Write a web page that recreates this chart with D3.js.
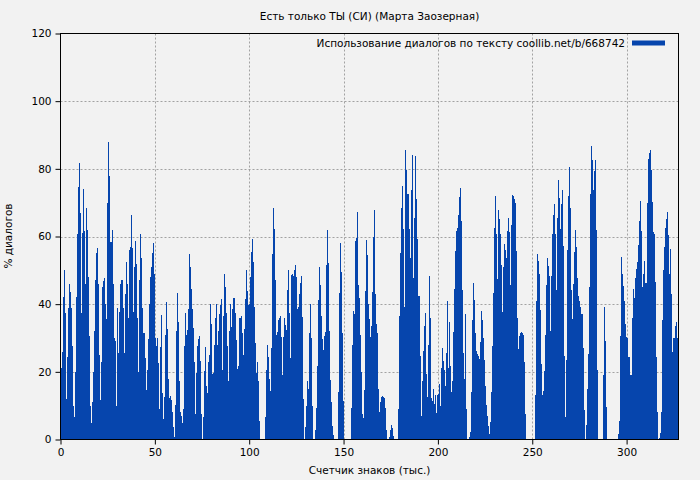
<!DOCTYPE html>
<html><head><meta charset="utf-8">
<script src="https://cdn.jsdelivr.net/npm/d3@7"></script>
<style>body{margin:0;background:#f2f2f2} text{font-family:"DejaVu Sans",sans-serif}</style>
</head><body><svg id="c" width="700" height="480"></svg>
<script>
const title = "Есть только ТЫ (СИ) (Марта Заозерная)";
const legendLabel = "Использование диалогов по тексту coollib.net/b/668742";
const xLabel = "Счетчик знаков (тыс.)";
const yLabel = "% диалогов";
const xTicks = [0, 50, 100, 150, 200, 250, 300];
const yTicks = [0, 20, 40, 60, 80, 100, 120];
const binWidth = 0.533; // thousand characters per bar

const seg1 = [21,26,42,50,37.5,12,24.5,39,46,43.5,39,27.5,10,6.6,20,42,60.6,74.6,81.7,67,37.5,61,74,61.6,46,68.5,62,48,30.7,10,5,11,20,32,47,55,56.5,46,25,11.6,23,45,46.7,47.7,40,35.5,70,87.8,78,58.5,58.5,62,46,30,29,10,39,25.5,37.6,46,47,47,39,25.7,43,52.6,46,36,56,57,66.5,56.5,37.8,51,58.6,52];
const seg2 = [36,20,47,60.6,53.5,39,31.4,31.4,24,14.5,20.4,29.7,40,48,51,55,58.2,48.8,29.9,27.5,30,22.6,9,27.3,36.7,13.7,6,12.7,31,40.5,32.8,18,12.3,13,11.7,8.2,3.6,0.7,10.3,32.2,43.4,34.6,17.2,8,7,5,9,27.7,37.5,30.8,32.4,38.5,54.7,51,44.6,38.5,33,22.8,7.4,19.8,27.5,29.7,30.6,23.3,7.4,0,6.6,20.2,27.3,15.7,13.7,22.8,25,40,34,19.4];
const seg3 = [19.6,28,35.8,40,28,32,37,39.7,41.5,20.6,36.4,48.8,45,37.3,27.5,17.2,32.2,40,33.2,38.7,41.7,37.5,29.3,20.8,21.8,36,36,36.6,31.4,25,32.6,41.6,50,44,39.7,40,48,55.5,59.4,52.6,39.3,28.5,19.8,23,17.2,5.4,0,0,0,0,0,6.6,20.6,28,24.5,17.8,14.3,27,54.7,68.5,62.2,47.2,30.8,31.8,35.2,35.8,36.4,30.4,19.2,30.2,36,33.8,32.4,44.2,50,37.5,24,48.6];
const seg4 = [48.8,48.4,50.1,51.5,48,38.7,39.1,42.9,46.4,48.4,36.2,11.9,0,3.8,10,17.2,15,31.6,40,29.9,9.8,0,0,2.7,9.2,21.8,41.3,51,45.8,36.4,29.7,26.5,30.6,31.8,51.7,62,52.1,32,17.6,11.1,4,1.3,0,0,0,0,14.1,43.4,58.2,49.4,31.6,11.3,0,0,0,0,0,0,0,9.2,28,37.9,37,58.8,59.6,67.1,45.6,41.9,31,20,7.6,6.4,14.5,44,59,54.5,40,35.6];
const seg5 = [30.2,33.6,43.6,59.8,67.7,43,34,31.6,15,8,11.1,12.5,12.9,12.7,12.3,9.2,2.7,0,0,0.7,2.9,4.2,3.3,0.9,0,0,0,0,9,36.6,55,68.3,74.8,62.2,39.3,85.6,79.7,72.6,62.2,53.5,73.6,84,47.6,65.5,83.8,71.2,59.2,42.3,42.3,24.7,6.8,17.2,26.3,33.6,37.5,19.4,12.5,28,48.4,36,12.3,11.5,14.9,10.5,13.3,7.8,13.3,13.5,16.3,9.8,21.2,27.1,23.3,20.6,15.9,25.5,41,21.2];
const seg6 = [34.8,21.8,13.9,17.2,31.8,44.6,55.7,61.6,62.6,66.3,71.6,74.4,64.5,44.2,25.5,18,37,9,0,0,0.7,2.3,14.1,35.4,46.4,41.3,31.6,26.3,25.3,24.7,23.7,28.9,38.1,35.4,30,23.5,15.9,10.3,7,4,1.5,5.2,13.9,27.5,43.4,62.4,72,60.8,47.4,67.7,65.3,60.6,51.5,37.7,51.1,57.8,55.9,53.5,61.6,65.5,61.4,45.8,63.3,72.4,72,71,69.9,55.7,36,26.7,30.6,31.4,31.8,31.4,31,23,7.4,0];
const seg7 = [0,0,0,0,0,0,0,0,13.3,41,54.9,52.9,48.8,38.3,22.2,13.1,14.3,20.2,30.8,45.8,53.5,51.3,48.2,32.2,48.2,60.8,66.5,69.5,60.6,44.2,65.5,76.6,71.4,62.2,69.5,73.6,57.2,24.7,6.6,23.5,56,72,80.5,68.3,44.2,35.6,46,55.5,61.8,57,47.6,42.3,40.9,39.1,37,26.9,8.6,0,4.4,14.9,25.3,45,72.6,86.8,82.5,73.6,79.3,82.7,61.8,20.4,0,0,0,0,0,19.2,39.1,29.1];
const seg8 = [9.6,0,0,0,0,0,0,0,0,0,0,0,1.5,5.6,30.6,54,48.8,45.4,41,34,30.4,29.9,24.5,24.3,19,19,36,44.6,41.7,47.6,50.5,52.5,57.4,64.5,70.6,61.6,45,48.8,52.9,46.2,46.4,70,82.9,84.6,85.6,79.7,70.2,61.2,60.6,46.6,24.5,8,0,0.5,2,8,35.4,50,57,62.4,65.3,67.3,60.4,48.8,56.3,43,25.9,30,30,33.4,34.8,30,20.8];
const usage = [].concat(seg1, seg2, seg3, seg4, seg5, seg6, seg7, seg8);

const svg = d3.select("#c");
const W = 700, H = 480;
const m = {l: 60.5, r: 678.5, t: 33.5, b: 439.5};
const xMax = 327.5;
const x = d3.scaleLinear().domain([0, xMax]).range([m.l, m.r]);
const y = d3.scaleLinear().domain([0, 120]).range([m.b, m.t]);
const FS = 10.5;

svg.append("rect").attr("width", W).attr("height", H).attr("fill", "#f2f2f2");

// grid
const grid = svg.append("g").attr("stroke", "#999").attr("stroke-width", 0.9).attr("stroke-dasharray", "2,2");
grid.selectAll(".gx").data(xTicks.filter(d => d > 0)).join("line")
  .attr("x1", d => Math.round(x(d)) + 0.5).attr("x2", d => Math.round(x(d)) + 0.5)
  .attr("y1", m.t).attr("y2", m.b);
grid.selectAll(".gy").data(yTicks.filter(d => d > 0 && d < 120)).join("line")
  .attr("y1", d => Math.round(y(d)) + 0.5).attr("y2", d => Math.round(y(d)) + 0.5)
  .attr("x1", m.l).attr("x2", m.r);

// bars
svg.append("g").attr("fill", "#0645ad").attr("shape-rendering", "crispEdges")
  .selectAll("rect").data(usage).join("rect")
  .attr("x", (d, i) => Math.round(x(i * binWidth)))
  .attr("width", (d, i) => Math.max(1, Math.round(x((i + 1) * binWidth)) - Math.round(x(i * binWidth))))
  .attr("y", d => y(d))
  .attr("height", d => y(0) - y(d));

// axes
const xAxis = svg.append("g").attr("transform", `translate(0,${m.b})`)
  .call(d3.axisBottom(x).tickValues(xTicks).tickSize(5).tickPadding(4));
const yAxis = svg.append("g").attr("transform", `translate(${m.l},0)`)
  .call(d3.axisLeft(y).tickValues(yTicks).tickSize(5).tickPadding(4));
[xAxis, yAxis].forEach(a => {
  a.select(".domain").remove();
  a.selectAll("text").attr("font-size", FS).attr("font-family", "DejaVu Sans").attr("fill", "#000");
  a.selectAll("line").attr("stroke", "#000");
});

// frame
svg.append("rect").attr("x", m.l).attr("y", m.t).attr("width", m.r - m.l).attr("height", m.b - m.t)
  .attr("fill", "none").attr("stroke", "#000").attr("stroke-width", 1);

// title & labels
svg.append("text").attr("x", (m.l + m.r) / 2).attr("y", 20).attr("text-anchor", "middle")
  .attr("font-size", FS).text(title);
svg.append("text").attr("x", (m.l + m.r) / 2).attr("y", 474).attr("text-anchor", "middle")
  .attr("font-size", FS).text(xLabel);
svg.append("text").attr("transform", "translate(12,236) rotate(-90)").attr("text-anchor", "middle")
  .attr("font-size", FS).text(yLabel);

// legend
svg.append("text").attr("x", 625).attr("y", 46.5).attr("text-anchor", "end")
  .attr("font-size", FS).text(legendLabel);
svg.append("rect").attr("x", 632).attr("y", 40.5).attr("width", 33).attr("height", 5).attr("fill", "#0645ad");
</script>
</body></html>
